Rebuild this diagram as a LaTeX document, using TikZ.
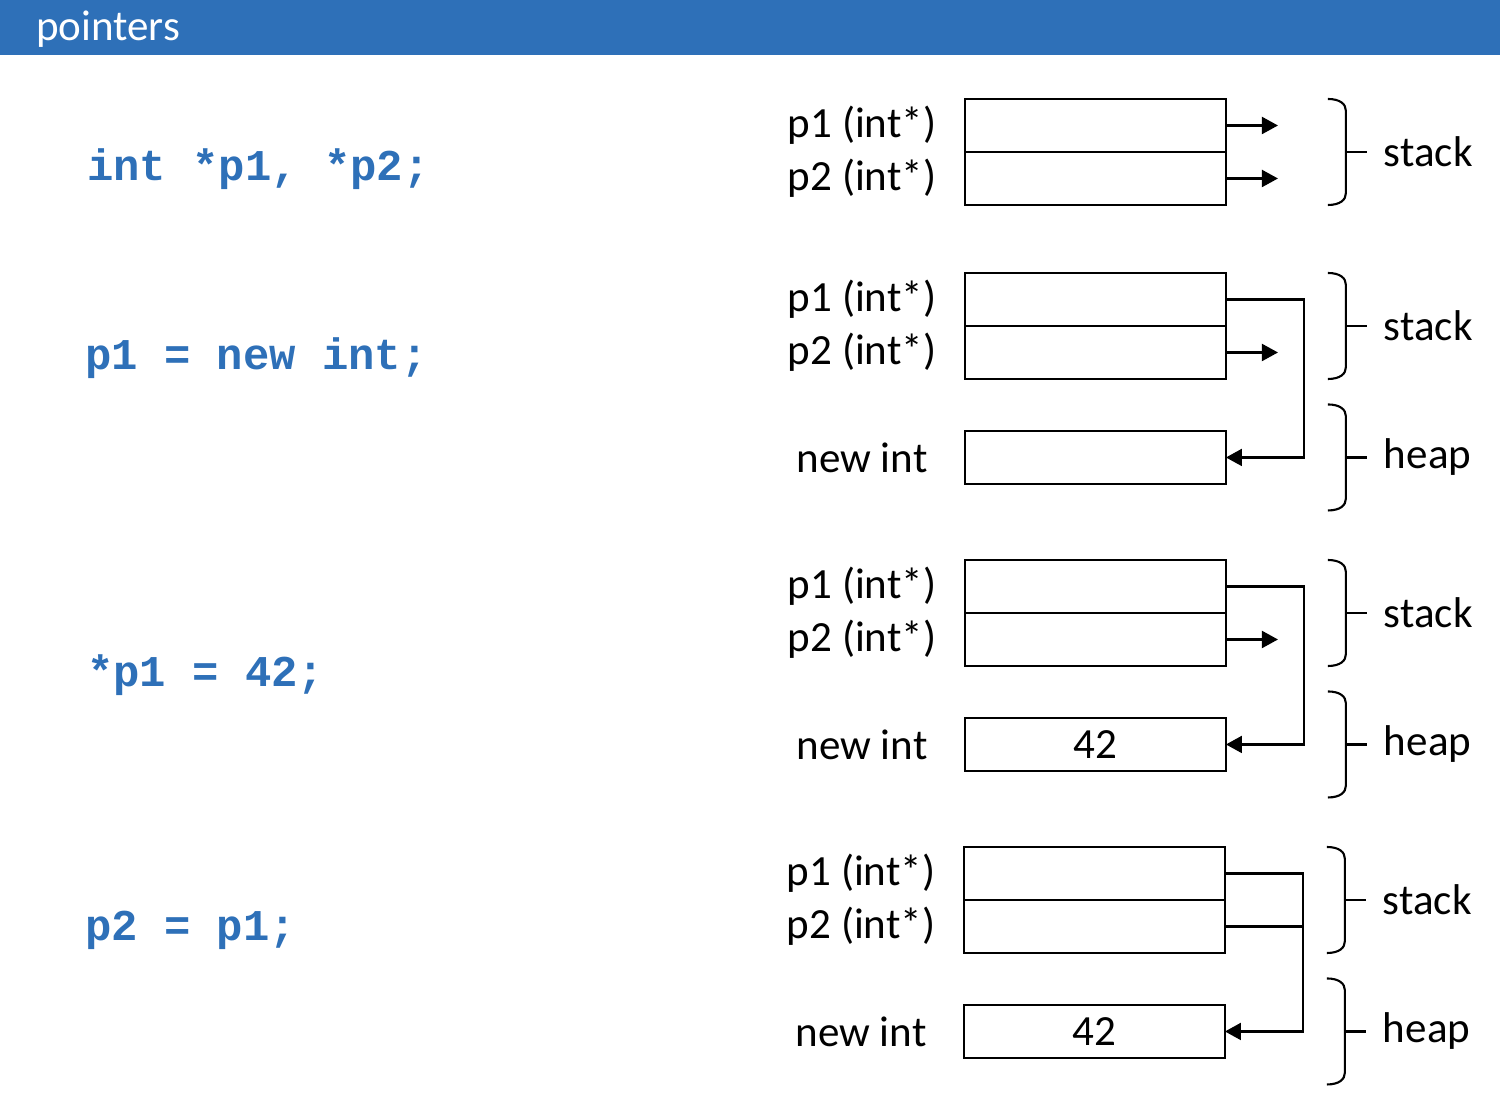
\documentclass[tikz,border=0pt]{standalone}
\usepackage{fontspec}
\setmainfont{Carlito}
\newfontfamily\codefont{Liberation Mono}
\usetikzlibrary{positioning,arrows.meta}
\definecolor{barblue}{HTML}{2E70B8}

\begin{document}
\begin{tikzpicture}[
  x = 0.02cm, y = -0.02cm,
  line width = 1.2pt,
  every node/.style = {font = \fontsize{24.5}{29}\selectfont},
  cell/.style = {draw, rectangle, minimum width = 5.22cm, minimum height = 1.06cm,
                 inner sep = 0pt, outer sep = 0pt},
  lbl/.style = {inner sep = 0pt},
  code/.style = {anchor = base west, inner sep = 0pt, text = barblue,
                 font = \codefont\bfseries\fontsize{25}{30}\selectfont},
  ptr/.style = {-{Triangle[length = 0.32cm, width = 0.34cm]}},
  membrace/.pic = {
    \draw (-18,-53) .. controls (-6,-53) and (0,-48) .. (0,-41)
          -- (0,41) .. controls (0,48) and (-6,53) .. (-18,53);
    \draw (0,0) -- (21,0);
    \node[lbl, anchor = west] (-txt) at (37,0) {#1};
  },
  ]
  \useasboundingbox (0,0) rectangle (1500,1094);
  \fill[barblue] (0,0) rectangle (1500,55);
  \node[anchor = base west, inner sep = 0pt, text = white] (title) at (35,41) {pointers};

  \node[code] (code1) at (86,181) {int *p1, *p2;};
  \node[code] (code2) at (84,370) {p1 = new int;};
  \node[code] (code3) at (86,686) {*p1 = 42;};
  \node[code] (code4) at (84,940) {p2 = p1;};

  \node[cell, anchor = north west] (a1) at (965,99) {};
  \node[cell, below = 0pt of a1] (a2) {};
  \node[lbl] (a1l) at ([xshift = -2.06cm]a1.west) {p1 (int*)};
  \node[lbl] (a2l) at ([xshift = -2.06cm]a2.west) {p2 (int*)};
  \coordinate (a1t) at ([xshift = 1.04cm]a1.east);
  \coordinate (a2t) at ([xshift = 1.04cm]a2.east);
  \draw[ptr] (a1.east) -- (a1t);
  \draw[ptr] (a2.east) -- (a2t);
  \pic (as) at ([xshift = 2.4cm]a1.south east) {membrace = stack};

  \node[cell, anchor = north west] (b1) at (965,273) {};
  \node[cell, below = 0pt of b1] (b2) {};
  \node[cell, below = 1.04cm of b2] (bn) {};
  \node[lbl] (b1l) at ([xshift = -2.06cm]b1.west) {p1 (int*)};
  \node[lbl] (b2l) at ([xshift = -2.06cm]b2.west) {p2 (int*)};
  \node[lbl] (bnl) at ([xshift = -2.06cm]bn.west) {new int};
  \coordinate (b2t) at ([xshift = 1.04cm]b2.east);
  \draw[ptr] (b2.east) -- (b2t);
  \draw[ptr] (b1.east) -- ++(78,0) |- (bn.east);
  \pic (bs) at ([xshift = 2.4cm]b1.south east) {membrace = stack};
  \pic (bh) at ([xshift = 2.4cm]bn.east) {membrace = heap};

  \node[cell, anchor = north west] (c1) at (965,560) {};
  \node[cell, below = 0pt of c1] (c2) {};
  \node[cell, below = 1.04cm of c2] (cn) {42};
  \node[lbl] (c1l) at ([xshift = -2.06cm]c1.west) {p1 (int*)};
  \node[lbl] (c2l) at ([xshift = -2.06cm]c2.west) {p2 (int*)};
  \node[lbl] (cnl) at ([xshift = -2.06cm]cn.west) {new int};
  \coordinate (c2t) at ([xshift = 1.04cm]c2.east);
  \draw[ptr] (c2.east) -- (c2t);
  \draw[ptr] (c1.east) -- ++(78,0) |- (cn.east);
  \pic (cs) at ([xshift = 2.4cm]c1.south east) {membrace = stack};
  \pic (ch) at ([xshift = 2.4cm]cn.east) {membrace = heap};

  \node[cell, anchor = north west] (d1) at (964,847) {};
  \node[cell, below = 0pt of d1] (d2) {};
  \node[cell, below = 1.04cm of d2] (dn) {42};
  \node[lbl] (d1l) at ([xshift = -2.06cm]d1.west) {p1 (int*)};
  \node[lbl] (d2l) at ([xshift = -2.06cm]d2.west) {p2 (int*)};
  \node[lbl] (dnl) at ([xshift = -2.06cm]dn.west) {new int};
  \draw[ptr] (d1.east) -- ++(78,0) |- (dn.east);
  \draw (d2.east) -- ++(78,0);
  \pic (ds) at ([xshift = 2.4cm]d1.south east) {membrace = stack};
  \pic (dh) at ([xshift = 2.4cm]dn.east) {membrace = heap};
\end{tikzpicture}
\end{document}
